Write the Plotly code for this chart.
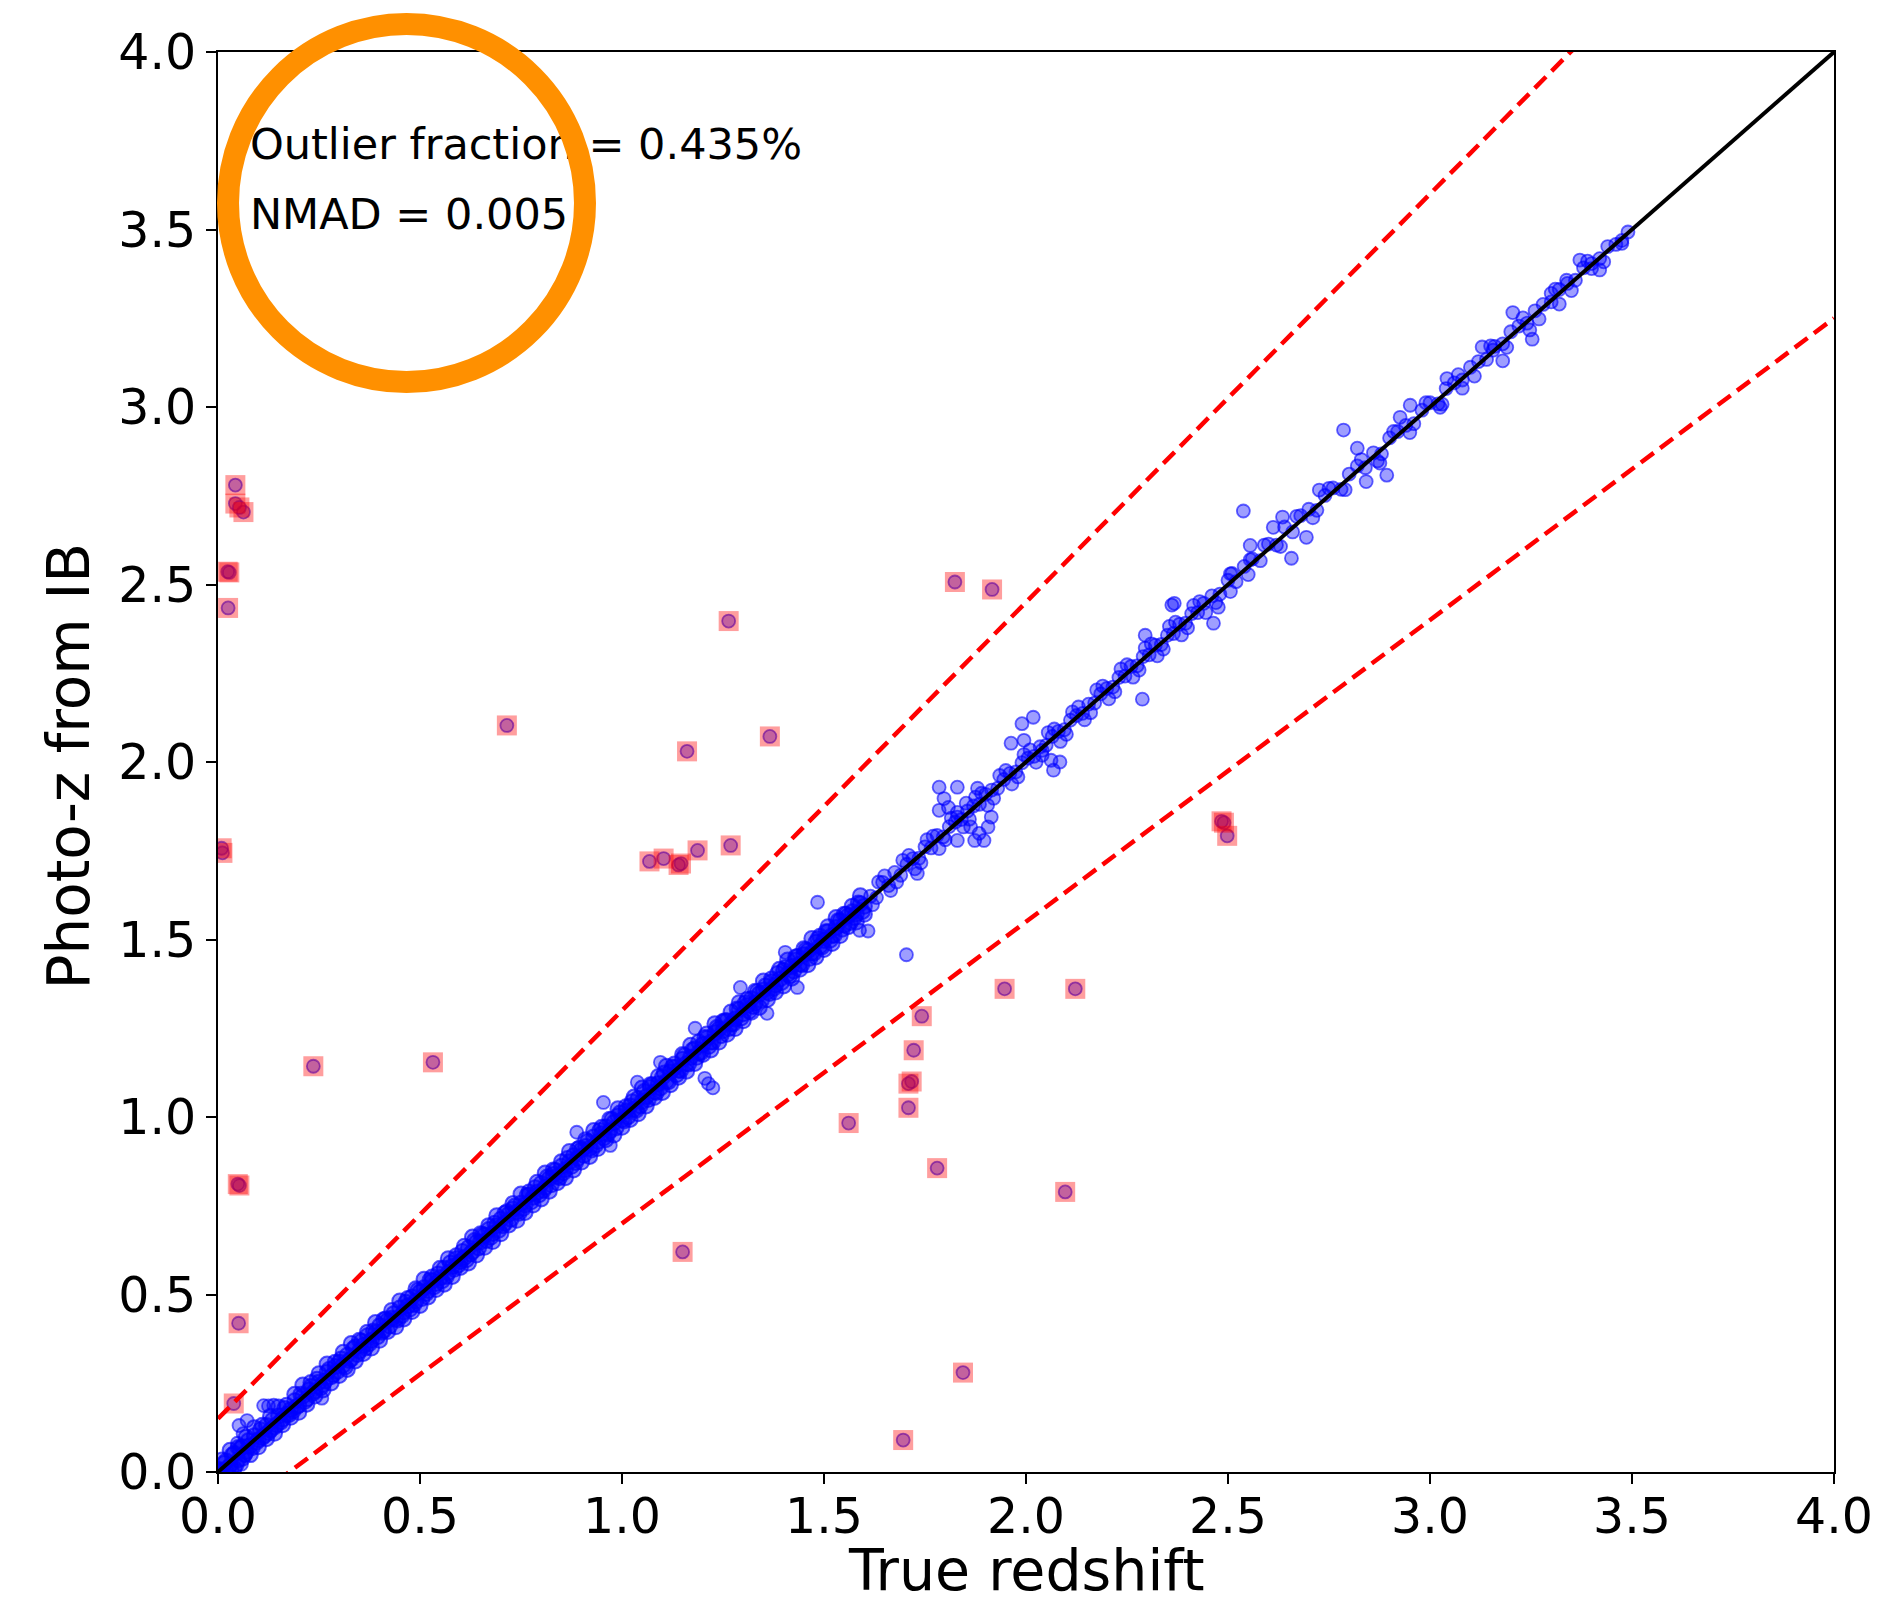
import plotly.graph_objects as go

# ---------------------------------------------------------------------------
# Photo-z vs spectroscopic redshift for the IB catalogue
# ---------------------------------------------------------------------------

# Main locus, z < 1.6 (several interleaved sets of galaxies)
z_true_a = [0.00, 0.01, 0.02, 0.03, 0.04, 0.05, 0.06, 0.07, 0.08, 0.09,
            0.10, 0.11, 0.12, 0.13, 0.14, 0.15, 0.16, 0.17, 0.18, 0.19,
            0.20, 0.21, 0.22, 0.23, 0.24, 0.25, 0.26, 0.27, 0.28, 0.29,
            0.30, 0.31, 0.32, 0.33, 0.34, 0.35, 0.36, 0.37, 0.38, 0.39,
            0.40, 0.41, 0.42, 0.43, 0.44, 0.45, 0.46, 0.47, 0.48, 0.49,
            0.50, 0.51, 0.52, 0.53, 0.54, 0.55, 0.56, 0.57, 0.58, 0.59,
            0.60, 0.61, 0.62, 0.63, 0.64, 0.65, 0.66, 0.67, 0.68, 0.69,
            0.70, 0.71, 0.72, 0.73, 0.74, 0.75, 0.76, 0.77, 0.78, 0.79,
            0.80, 0.81, 0.82, 0.83, 0.84, 0.85, 0.86, 0.87, 0.88, 0.89,
            0.90, 0.91, 0.92, 0.93, 0.94, 0.95, 0.96, 0.97, 0.98, 0.99,
            1.00, 1.01, 1.02, 1.03, 1.04, 1.05, 1.06, 1.07, 1.08, 1.09,
            1.10, 1.11, 1.12, 1.13, 1.14, 1.15, 1.16, 1.17, 1.18, 1.19,
            1.20, 1.21, 1.22, 1.23, 1.24, 1.25, 1.26, 1.27, 1.28, 1.29,
            1.30, 1.31, 1.32, 1.33, 1.34, 1.35, 1.36, 1.37, 1.38, 1.39,
            1.40, 1.41, 1.42, 1.43, 1.44, 1.45, 1.46, 1.47, 1.48, 1.49,
            1.50, 1.51, 1.52, 1.53, 1.54, 1.55, 1.56, 1.57, 1.58, 1.59,
            1.60]
z_phot_a = [0.008, 0.004, 0.031, 0.018, 0.052, 0.034, 0.071, 0.058, 0.074, 0.102,
            0.091, 0.097, 0.131, 0.118, 0.127, 0.158, 0.149, 0.163, 0.176, 0.201,
            0.188, 0.214, 0.206, 0.241, 0.228, 0.253, 0.247, 0.281, 0.268, 0.297,
            0.309, 0.301, 0.329, 0.318, 0.352, 0.341, 0.356, 0.384, 0.371, 0.393,
            0.412, 0.398, 0.427, 0.433, 0.431, 0.462, 0.451, 0.468, 0.493, 0.482,
            0.507, 0.519, 0.511, 0.538, 0.531, 0.547, 0.574, 0.562, 0.579, 0.601,
            0.593, 0.604, 0.632, 0.621, 0.647, 0.648, 0.667, 0.683, 0.672, 0.694,
            0.712, 0.701, 0.726, 0.741, 0.733, 0.757, 0.752, 0.781, 0.774, 0.788,
            0.813, 0.802, 0.827, 0.838, 0.833, 0.861, 0.852, 0.874, 0.891, 0.883,
            0.908, 0.917, 0.912, 0.944, 0.931, 0.953, 0.972, 0.961, 0.984, 1.003,
            0.992, 1.017, 1.031, 1.022, 1.052, 1.044, 1.057, 1.083, 1.071, 1.094,
            1.112, 1.101, 1.127, 1.139, 1.132, 1.163, 1.151, 1.168, 1.192, 1.181,
            1.204, 1.222, 1.211, 1.237, 1.248, 1.243, 1.271, 1.262, 1.276, 1.303,
            1.291, 1.314, 1.333, 1.321, 1.347, 1.358, 1.352, 1.381, 1.372, 1.388,
            1.413, 1.402, 1.424, 1.442, 1.431, 1.457, 1.468, 1.463, 1.492, 1.481,
            1.497, 1.522, 1.511, 1.534, 1.553, 1.541, 1.567, 1.578, 1.572, 1.601,
            1.594]

z_true_b = [0.005, 0.015, 0.025, 0.035, 0.045, 0.055, 0.065, 0.075, 0.085, 0.095,
            0.105, 0.115, 0.125, 0.135, 0.145, 0.155, 0.165, 0.175, 0.185, 0.195,
            0.205, 0.215, 0.225, 0.235, 0.245, 0.255, 0.265, 0.275, 0.285, 0.295,
            0.305, 0.315, 0.325, 0.335, 0.345, 0.355, 0.365, 0.375, 0.385, 0.395,
            0.405, 0.415, 0.425, 0.435, 0.445, 0.455, 0.465, 0.475, 0.485, 0.495,
            0.505, 0.515, 0.525, 0.535, 0.545, 0.555, 0.565, 0.575, 0.585, 0.595,
            0.605, 0.615, 0.625, 0.635, 0.645, 0.655, 0.665, 0.675, 0.685, 0.695,
            0.705, 0.715, 0.725, 0.735, 0.745, 0.755, 0.765, 0.775, 0.785, 0.795,
            0.805, 0.815, 0.825, 0.835, 0.845, 0.855, 0.865, 0.875, 0.885, 0.895,
            0.905, 0.915, 0.925, 0.935, 0.945, 0.955, 0.965, 0.975, 0.985, 0.995,
            1.005, 1.015, 1.025, 1.035, 1.045, 1.055, 1.065, 1.075, 1.085, 1.095,
            1.105, 1.115, 1.125, 1.135, 1.145, 1.155, 1.165, 1.175, 1.185, 1.195,
            1.205, 1.215, 1.225, 1.235, 1.245, 1.255, 1.265, 1.275, 1.285, 1.295,
            1.305, 1.315, 1.325, 1.335, 1.345, 1.355, 1.365, 1.375, 1.385, 1.395,
            1.405, 1.415, 1.425, 1.435, 1.445, 1.455, 1.465, 1.475, 1.485, 1.495,
            1.505, 1.515, 1.525, 1.535, 1.545, 1.555, 1.565, 1.575, 1.585, 1.595]
z_phot_b = [0.001, 0.024, 0.012, 0.047, 0.021, 0.066, 0.049, 0.088, 0.069, 0.084,
            0.119, 0.103, 0.111, 0.146, 0.133, 0.141, 0.179, 0.161, 0.171, 0.184,
            0.219, 0.199, 0.231, 0.222, 0.261, 0.238, 0.256, 0.289, 0.274, 0.283,
            0.318, 0.296, 0.314, 0.347, 0.331, 0.368, 0.349, 0.362, 0.397, 0.381,
            0.394, 0.431, 0.411, 0.446, 0.428, 0.441, 0.478, 0.459, 0.472, 0.512,
            0.489, 0.503, 0.541, 0.522, 0.558, 0.539, 0.551, 0.589, 0.571, 0.583,
            0.621, 0.598, 0.614, 0.652, 0.631, 0.669, 0.652, 0.661, 0.701, 0.681,
            0.694, 0.733, 0.712, 0.749, 0.729, 0.742, 0.779, 0.761, 0.801, 0.781,
            0.793, 0.831, 0.809, 0.849, 0.829, 0.843, 0.883, 0.861, 0.872, 0.913,
            0.892, 0.931, 0.907, 0.921, 0.962, 0.941, 0.952, 0.993, 0.969, 1.011,
            0.989, 1.001, 1.043, 1.019, 1.031, 1.072, 1.049, 1.091, 1.069, 1.082,
            1.124, 1.099, 1.141, 1.119, 1.131, 1.173, 1.149, 1.189, 1.168, 1.181,
            1.224, 1.199, 1.211, 1.252, 1.229, 1.271, 1.249, 1.262, 1.304, 1.279,
            1.321, 1.298, 1.311, 1.353, 1.329, 1.369, 1.348, 1.362, 1.404, 1.379,
            1.421, 1.398, 1.411, 1.452, 1.429, 1.471, 1.447, 1.461, 1.502, 1.479,
            1.522, 1.498, 1.512, 1.553, 1.529, 1.571, 1.548, 1.562, 1.603, 1.579]

# Upper edge of the low-z locus
z_true_f = [0.01, 0.03, 0.05, 0.07, 0.09, 0.11, 0.13, 0.15, 0.17, 0.19,
            0.21, 0.23, 0.25, 0.27, 0.29, 0.31, 0.33, 0.35, 0.37, 0.39,
            0.41, 0.43, 0.45, 0.47, 0.49, 0.51, 0.53, 0.55, 0.57, 0.59,
            0.61, 0.63, 0.65, 0.67, 0.69, 0.71, 0.73, 0.75, 0.77, 0.79,
            0.81, 0.83, 0.85, 0.87, 0.89, 0.91, 0.93, 0.95, 0.97, 0.99,
            1.01, 1.03, 1.05, 1.07, 1.09, 1.11, 1.13, 1.15, 1.17, 1.19,
            1.21, 1.23, 1.25, 1.27, 1.29, 1.31, 1.33, 1.35, 1.37, 1.39,
            1.41, 1.43, 1.45, 1.47, 1.49, 1.51, 1.53, 1.55, 1.57, 1.59]
z_phot_f = [0.034, 0.061, 0.069, 0.098, 0.125, 0.132, 0.157, 0.183, 0.188, 0.219,
            0.245, 0.252, 0.277, 0.304, 0.309, 0.337, 0.362, 0.371, 0.394, 0.421,
            0.429, 0.455, 0.482, 0.489, 0.516, 0.543, 0.549, 0.574, 0.601, 0.609,
            0.636, 0.662, 0.671, 0.694, 0.722, 0.729, 0.756, 0.783, 0.789, 0.816,
            0.842, 0.851, 0.874, 0.903, 0.909, 0.936, 0.962, 0.971, 0.994, 1.023,
            1.029, 1.056, 1.082, 1.091, 1.114, 1.143, 1.149, 1.176, 1.202, 1.211,
            1.234, 1.263, 1.269, 1.296, 1.322, 1.331, 1.354, 1.383, 1.389, 1.416,
            1.442, 1.451, 1.474, 1.503, 1.509, 1.536, 1.562, 1.571, 1.594, 1.623]

# Lower edge of the low-z locus
z_true_g = [0.02, 0.04, 0.06, 0.08, 0.10, 0.12, 0.14, 0.16, 0.18, 0.20,
            0.22, 0.24, 0.26, 0.28, 0.30, 0.32, 0.34, 0.36, 0.38, 0.40,
            0.42, 0.44, 0.46, 0.48, 0.50, 0.52, 0.54, 0.56, 0.58, 0.60,
            0.62, 0.64, 0.66, 0.68, 0.70, 0.72, 0.74, 0.76, 0.78, 0.80,
            0.82, 0.84, 0.86, 0.88, 0.90, 0.92, 0.94, 0.96, 0.98, 1.00,
            1.02, 1.04, 1.06, 1.08, 1.10, 1.12, 1.14, 1.16, 1.18, 1.20,
            1.22, 1.24, 1.26, 1.28, 1.30, 1.32, 1.34, 1.36, 1.38, 1.40,
            1.42, 1.44, 1.46, 1.48, 1.50, 1.52, 1.54, 1.56, 1.58, 1.60]
z_phot_g = [0.003, 0.011, 0.038, 0.049, 0.071, 0.094, 0.109, 0.133, 0.154, 0.168,
            0.191, 0.214, 0.231, 0.251, 0.272, 0.289, 0.313, 0.334, 0.349, 0.371,
            0.396, 0.409, 0.431, 0.452, 0.469, 0.493, 0.514, 0.529, 0.551, 0.576,
            0.589, 0.611, 0.633, 0.649, 0.671, 0.696, 0.709, 0.731, 0.752, 0.769,
            0.791, 0.815, 0.829, 0.851, 0.873, 0.889, 0.911, 0.936, 0.949, 0.971,
            0.993, 1.009, 1.031, 1.055, 1.069, 1.091, 1.112, 1.129, 1.151, 1.176,
            1.189, 1.211, 1.233, 1.249, 1.271, 1.295, 1.309, 1.331, 1.352, 1.369,
            1.391, 1.416, 1.429, 1.451, 1.472, 1.489, 1.511, 1.536, 1.549, 1.571]

# Intermediate redshifts, 1.6 < z < 2.45
z_true_c = [1.615, 1.630, 1.645, 1.660, 1.675, 1.690, 1.705, 1.720, 1.735, 1.750,
            1.765, 1.780, 1.795, 1.810, 1.825, 1.840, 1.855, 1.870, 1.885, 1.900,
            1.915, 1.930, 1.945, 1.960, 1.975, 1.990, 2.005, 2.020, 2.035, 2.050,
            2.065, 2.080, 2.095, 2.110, 2.125, 2.140, 2.155, 2.170, 2.185, 2.200,
            2.215, 2.230, 2.245, 2.260, 2.275, 2.290, 2.305, 2.320, 2.335, 2.350,
            2.365, 2.380, 2.395, 2.410, 2.425, 2.440]
z_phot_c = [1.622, 1.618, 1.661, 1.652, 1.689, 1.681, 1.712, 1.728, 1.729, 1.761,
            1.758, 1.793, 1.789, 1.818, 1.831, 1.838, 1.862, 1.876, 1.881, 1.909,
            1.921, 1.926, 1.951, 1.968, 1.972, 1.998, 2.011, 2.016, 2.043, 2.047,
            2.072, 2.086, 2.091, 2.118, 2.131, 2.137, 2.163, 2.166, 2.192, 2.207,
            2.211, 2.238, 2.242, 2.269, 2.271, 2.297, 2.302, 2.329, 2.331, 2.357,
            2.362, 2.388, 2.391, 2.418, 2.421, 2.447]

z_true_d = [1.62, 1.65, 1.68, 1.71, 1.74, 1.77, 1.80, 1.83, 1.86, 1.89,
            1.92, 1.95, 1.98, 2.01, 2.04, 2.07, 2.10, 2.13, 2.16, 2.19,
            2.22, 2.25, 2.28, 2.31, 2.34, 2.37, 2.40, 2.43]
z_phot_d = [1.598, 1.679, 1.662, 1.737, 1.716, 1.791, 1.781, 1.858, 1.839, 1.912,
            1.898, 1.976, 1.958, 2.034, 2.019, 2.093, 2.078, 2.155, 2.139, 2.214,
            2.198, 2.274, 2.259, 2.333, 2.318, 2.394, 2.378, 2.452]

z_true_h = [1.635, 1.665, 1.695, 1.725, 1.755, 1.785, 1.815, 1.845, 1.875, 1.905,
            1.935, 1.965, 1.995, 2.025, 2.055, 2.085, 2.115, 2.145, 2.175, 2.205,
            2.235, 2.265, 2.295, 2.325, 2.355, 2.385, 2.415, 2.445]
z_phot_h = [1.662, 1.638, 1.723, 1.699, 1.781, 1.756, 1.842, 1.817, 1.901, 1.878,
            1.962, 1.938, 2.021, 1.999, 2.083, 2.058, 2.141, 2.119, 2.203, 2.178,
            2.262, 2.239, 2.321, 2.299, 2.382, 2.358, 2.441, 2.421]

# High redshifts, z > 2.45
z_true_e = [2.46, 2.48, 2.50, 2.52, 2.54, 2.56, 2.58, 2.60, 2.62, 2.64,
            2.66, 2.68, 2.70, 2.72, 2.74, 2.76, 2.78, 2.80, 2.82, 2.84,
            2.86, 2.88, 2.90, 2.92, 2.94, 2.96, 2.98, 3.00, 3.02, 3.04,
            3.06, 3.08, 3.10, 3.12, 3.14, 3.16, 3.18, 3.20, 3.22, 3.24,
            3.26, 3.28, 3.30, 3.32, 3.34, 3.36, 3.38, 3.40, 3.42, 3.44,
            3.46, 3.475, 3.49]
z_phot_e = [2.468, 2.473, 2.512, 2.508, 2.551, 2.572, 2.567, 2.614, 2.611, 2.662,
            2.648, 2.694, 2.712, 2.709, 2.751, 2.772, 2.768, 2.811, 2.834, 2.829,
            2.871, 2.868, 2.913, 2.931, 2.948, 2.953, 2.991, 3.012, 3.009, 3.052,
            3.068, 3.076, 3.112, 3.128, 3.134, 3.171, 3.178, 3.212, 3.228, 3.236,
            3.271, 3.289, 3.296, 3.331, 3.348, 3.357, 3.392, 3.404, 3.418, 3.452,
            3.458, 3.469, 3.493]

z_true_i = [2.47, 2.51, 2.55, 2.59, 2.63, 2.67, 2.71, 2.75, 2.79, 2.83,
            2.87, 2.91, 2.95, 2.99, 3.03, 3.07, 3.11, 3.15, 3.19, 3.23,
            3.27, 3.31, 3.35, 3.39, 3.43]
z_phot_i = [2.449, 2.531, 2.528, 2.611, 2.607, 2.692, 2.688, 2.771, 2.767, 2.852,
            2.848, 2.931, 2.928, 3.012, 3.008, 3.091, 3.087, 3.172, 3.168, 3.251,
            3.248, 3.332, 3.328, 3.411, 3.409]

# Galaxies scattered off the locus but still inside the outlier bounds
z_true_s = [0.035, 0.058, 0.068, 0.048, 0.062, 0.072, 0.052, 0.113, 0.125, 0.138,
            0.257, 0.888, 0.954, 0.971, 1.038, 1.095, 1.181, 1.205, 1.214, 1.225,
            1.293, 1.359, 1.404, 1.434, 1.484, 1.588, 1.609, 1.704, 1.731,
            1.785, 1.830, 1.880, 1.797, 1.808, 1.830, 1.852, 1.863, 1.884, 1.896,
            1.873, 1.906, 1.830, 1.785, 1.914,
            1.990, 2.018, 1.963, 1.995, 2.062, 2.084, 2.068, 2.040,
            2.288, 2.295, 2.361, 2.367, 2.464, 2.476,
            2.506, 2.506, 2.538, 2.555, 2.555, 2.612, 2.635, 2.657, 2.694, 2.726,
            2.786, 2.820, 2.842, 2.893, 2.876, 2.926, 2.951, 3.025, 3.042, 3.080,
            3.129, 3.156, 3.180, 3.205, 3.247, 3.253, 3.300, 3.320, 3.338, 3.371,
            3.400, 3.420, 3.475]
z_phot_s = [0.009, 0.022, 0.047, 0.081, 0.108, 0.145, 0.131, 0.187, 0.186, 0.188,
            0.208, 0.957, 1.041, 0.920, 1.098, 1.154, 1.250, 1.109, 1.094, 1.082,
            1.365, 1.292, 1.464, 1.365, 1.605, 1.526, 1.524, 1.457, 1.686,
            1.929, 1.929, 1.926, 1.897, 1.872, 1.845, 1.884, 1.817, 1.799, 1.779,
            1.779, 1.817, 1.779, 1.864, 1.845,
            2.108, 2.126, 2.053, 2.061, 2.005, 2.000, 1.977, 2.033,
            2.177, 2.357, 2.442, 2.447, 2.391, 2.436,
            2.530, 2.480, 2.707, 2.610, 2.570, 2.661, 2.690, 2.574, 2.633, 2.766,
            2.935, 2.884, 2.790, 2.808, 2.842, 2.971, 3.005, 2.999, 3.080, 3.053,
            3.169, 3.160, 3.130, 3.266, 3.217, 3.191, 3.320, 3.290, 3.357, 3.414,
            3.390, 3.386, 3.461]

# Catastrophic outliers (|dz|/(1+z) > 0.15)
z_true_out = [0.043, 0.043, 0.053, 0.063, 0.024, 0.028, 0.025, 0.009, 0.011, 0.049,
              0.053, 0.051, 0.039, 0.236, 0.532, 0.715, 1.161, 1.264, 1.366, 1.068,
              1.103, 1.140, 1.146, 1.187, 1.269, 1.150, 1.561, 1.696, 1.709, 1.709,
              1.717, 1.722, 1.742, 1.780, 1.844, 1.824, 1.916, 1.947, 2.122, 2.097,
              2.484, 2.490, 2.498]
z_phot_out = [2.780, 2.728, 2.717, 2.704, 2.536, 2.534, 2.434, 1.757, 1.744, 0.811,
              0.807, 0.419, 0.193, 1.143, 1.154, 2.103, 2.030, 2.397, 2.072, 1.720,
              1.728, 1.710, 1.714, 1.751, 1.765, 0.620, 0.983, 0.090, 1.026, 1.094,
              1.100, 1.188, 1.284, 0.856, 0.280, 2.507, 2.486, 1.361, 1.361, 0.789,
              1.833, 1.829, 1.792]

# Summary statistics and guide lines
outlier_threshold = 0.15
stat_lines = ["Outlier fraction = 0.435%", "NMAD = 0.005"]
x_title = "True redshift"
y_title = "Photo-z from IB"
axis_span = [0.0, 4.0]
tick_values = [0.0, 0.5, 1.0, 1.5, 2.0, 2.5, 3.0, 3.5, 4.0]
tick_labels = ["0.0", "0.5", "1.0", "1.5", "2.0", "2.5", "3.0", "3.5", "4.0"]

FONT = "DejaVu Sans"

# The crowded low-z locus and the sparser high-z part are drawn as two layers
dense_true = z_true_a + z_true_b + z_true_f + z_true_g
dense_phot = z_phot_a + z_phot_b + z_phot_f + z_phot_g
sparse_true = z_true_c + z_true_d + z_true_h + z_true_e + z_true_i + z_true_s + z_true_out
sparse_phot = z_phot_c + z_phot_d + z_phot_h + z_phot_e + z_phot_i + z_phot_s + z_phot_out

upper = [outlier_threshold + (1 + outlier_threshold) * z for z in axis_span]
lower = [-outlier_threshold + (1 - outlier_threshold) * z for z in axis_span]

fig = go.Figure()

fig.add_trace(go.Scatter(
    x=dense_true, y=dense_phot, mode="markers",
    marker=dict(size=15, color="rgba(0,0,255,0.45)",
                line=dict(color="rgba(0,0,255,0.65)", width=2)),
    showlegend=False, hoverinfo="skip"))

fig.add_trace(go.Scatter(
    x=sparse_true, y=sparse_phot, mode="markers",
    marker=dict(size=13, color="rgba(0,0,255,0.38)",
                line=dict(color="rgba(0,0,255,0.6)", width=1.8)),
    showlegend=False, hoverinfo="skip"))

fig.add_trace(go.Scatter(
    x=axis_span, y=axis_span, mode="lines",
    line=dict(color="black", width=4), showlegend=False))

for band in (upper, lower):
    fig.add_trace(go.Scatter(
        x=axis_span, y=band, mode="lines",
        line=dict(color="red", width=4.5, dash="16px,8px"), showlegend=False))

fig.add_trace(go.Scatter(
    x=z_true_out, y=z_phot_out, mode="markers",
    marker=dict(symbol="square", size=20, color="rgba(255,0,0,0.38)", line=dict(width=0)),
    showlegend=False, hoverinfo="skip"))

# Statistics text, placed in data coordinates at the upper left
fig.add_trace(go.Scatter(
    x=[0.079, 0.079], y=[3.728, 3.532], mode="text",
    text=stat_lines, textposition="middle right",
    textfont=dict(family=FONT, size=43, color="black"),
    showlegend=False, hoverinfo="skip"))

axis_common = dict(
    range=axis_span, tickmode="array", tickvals=tick_values, ticktext=tick_labels,
    showgrid=False, zeroline=False, showline=True, mirror=True,
    linecolor="black", linewidth=2, ticks="outside", ticklen=10, tickwidth=2,
    tickcolor="black", tickfont=dict(family=FONT, size=49, color="black"),
    automargin=False,
)

fig.update_layout(
    width=1894, height=1602,
    margin=dict(l=218, r=60, t=52, b=130),
    paper_bgcolor="white", plot_bgcolor="white",
    xaxis=dict(**axis_common, ticklabelstandoff=-10),
    yaxis=dict(**axis_common),
    annotations=[
        dict(text=x_title, xref="paper", yref="paper", x=0.5, y=-0.069,
             xanchor="center", yanchor="middle", showarrow=False,
             font=dict(family=FONT, size=57, color="black")),
        dict(text=y_title, xref="paper", yref="paper", x=-0.092, y=0.497,
             xanchor="center", yanchor="middle", textangle=-90, showarrow=False,
             font=dict(family=FONT, size=58, color="black")),
    ],
    shapes=[dict(type="circle", xref="paper", yref="paper",
                 x0=0.0062, x1=0.2271, y0=0.7676, y1=1.0197,
                 line=dict(color="#FF9000", width=22), layer="above")],
)

fig.write_html("out.html")
